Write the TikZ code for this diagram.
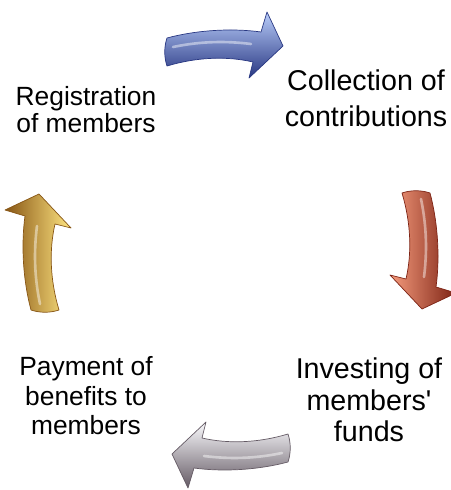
\documentclass[tikz,border=0pt]{standalone}
\usepackage{fontspec}
\newfontfamily\stagefont{Liberation Sans}
\usepackage{tikz}
\usetikzlibrary{shadings}

\definecolor{bluelight}{RGB}{185,205,250}
\definecolor{bluemid}{RGB}{90,120,210}
\definecolor{bluedark}{RGB}{40,55,130}
\definecolor{redlight}{RGB}{245,155,125}
\definecolor{redmid}{RGB}{215,85,55}
\definecolor{reddark}{RGB}{125,35,20}
\definecolor{greylight}{RGB}{250,250,253}
\definecolor{greymid}{RGB}{200,195,205}
\definecolor{greydark}{RGB}{100,90,100}
\definecolor{yellowlight}{RGB}{255,230,130}
\definecolor{yellowmid}{RGB}{238,178,35}
\definecolor{yellowdark}{RGB}{135,85,20}

\tikzset{
	stagetext/.style={anchor=base, align=center, inner sep=0pt}
}
\tikzset{
	leftsize/.style={font=\stagefont\fontsize{15}{15.5}\selectfont}
}

% curved block arrow: #1 tail, #2 angle, #3 shading angle, #4/#5/#6 light, mid and dark colour
\newcommand{\cyclearrow}[6]{%
  \begin{scope}[shift={#1}, rotate=#2]
    \shadedraw[top color=#4, middle color=#5, bottom color=#6, shading angle=#3,
        draw=#6, line join=round]
      (0,-14) .. controls (30,-5) and (60,-4) .. (86,-10) -- (82,-26) -- (116,6)
      -- (100,40) -- (94,20) .. controls (65,24) and (30,22) .. (0,14)
      .. controls (-3,5) and (-3,-5) .. cycle;
    \draw[white, opacity=.45, line width=1.5pt, line cap=round]
      (6,5) .. controls (35,11) and (60,11) .. (84,8);
  \end{scope}}

\begin{document}
\begin{tikzpicture}[x=0.02cm, y=0.02cm]
  \useasboundingbox (0,0) rectangle (450,490);

  % base anchor sits on the last line
  \node[stagetext, leftsize] (register) at (86,357) {Registration\\of members};
  \node[stagetext, font=\stagefont\fontsize{16.3}{21}\selectfont] (collect) at (366,363)
    {Collection of\\contributions};
  \node[stagetext, font=\stagefont\fontsize{16.3}{18.2}\selectfont] (invest) at (369,48)
    {Investing of\\members'\\funds};
  \node[stagetext, font=\stagefont\fontsize{15}{17}\selectfont] (pay) at (86,55)
    {Payment of\\benefits to\\members};

  \cyclearrow{(167,438)}{0}{0}{bluelight}{bluemid}{bluedark}
  \cyclearrow{(416,297)}{-90}{90}{redlight}{redmid}{reddark}
  \cyclearrow{(288,42)}{180}{0}{greylight}{greymid}{greydark}
  \cyclearrow{(45,180)}{90}{-90}{yellowlight}{yellowmid}{yellowdark}
\end{tikzpicture}
\end{document}
